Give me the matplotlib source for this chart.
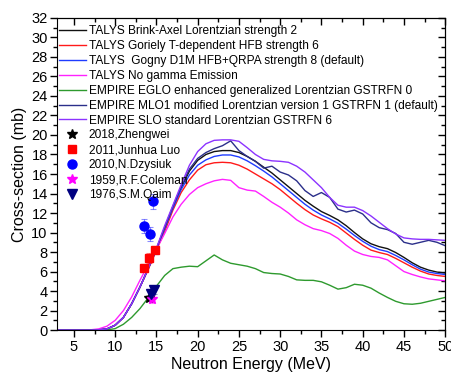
import matplotlib
matplotlib.use("Agg")
import matplotlib.pyplot as plt
from matplotlib.ticker import MultipleLocator

plt.rcParams['font.family'] = ['Liberation Sans', 'DejaVu Sans']

energy = list(range(3, 51))

talys_brink_axel = [0, 0, 0, 0, 0.0, 0.03, 0.12, 0.5, 1.3, 2.7, 4.4, 6.3, 8.3, 10.5, 12.6, 14.6,
                    16.3, 17.4, 18.0, 18.3, 18.4, 18.4, 18.2, 17.8, 17.3, 16.7, 16.1, 15.4, 14.7,
                    14.0, 13.3, 12.7, 12.15, 11.75, 11.3, 10.7, 10.0, 9.35, 8.85, 8.55, 8.35, 7.95,
                    7.45, 6.9, 6.45, 6.15, 5.95, 5.85]
talys_goriely = [0, 0, 0, 0, 0.0, 0.03, 0.12, 0.5, 1.3, 2.7, 4.4, 6.2, 8.2, 10.1, 12.3, 14.1,
                 15.4, 16.4, 16.95, 17.15, 17.2, 17.15, 16.9, 16.5, 16.0, 15.5, 15.0, 14.4, 13.7,
                 13.0, 12.35, 11.8, 11.4, 11.05, 10.6, 9.95, 9.3, 8.7, 8.2, 7.95, 7.75, 7.35,
                 6.9, 6.45, 6.05, 5.75, 5.6, 5.5]
talys_gogny = [0, 0, 0, 0, 0.0, 0.03, 0.12, 0.5, 1.3, 2.7, 4.4, 6.3, 8.3, 10.4, 12.5, 14.4,
               15.9, 16.9, 17.45, 17.8, 17.95, 17.95, 17.75, 17.35, 16.85, 16.3, 15.7, 15.0, 14.3,
               13.6, 12.9, 12.3, 11.8, 11.4, 10.95, 10.35, 9.7, 9.1, 8.6, 8.25, 8.05, 7.65,
               7.2, 6.7, 6.25, 5.95, 5.8, 5.7]
talys_no_gamma = [0, 0, 0, 0, 0.03, 0.12, 0.4, 1.0, 2.0, 3.4, 5.1, 6.7, 8.3, 9.9, 11.6, 12.9,
                  13.9, 14.6, 15.0, 15.3, 15.45, 15.35, 14.6, 14.35, 14.25, 13.7, 13.1, 12.6, 12.0,
                  11.3, 10.8, 10.4, 10.2, 9.9, 9.4, 8.7, 8.1, 7.75, 7.55, 7.45, 7.2, 6.6,
                  6.0, 5.7, 5.45, 5.25, 5.15, 5.05]
empire_eglo = [0, 0, 0, 0, 0, 0, 0.02, 0.15, 0.6, 1.3, 2.2, 3.3, 4.5, 5.6, 6.3, 6.45,
               6.55, 6.5, 7.1, 7.7, 7.2, 6.85, 6.7, 6.55, 6.3, 5.9, 5.8, 5.75, 5.5,
               5.15, 5.1, 5.1, 4.95, 4.6, 4.2, 4.35, 4.7, 4.6, 4.3, 3.8, 3.35, 2.95,
               2.7, 2.65, 2.75, 2.95, 3.15, 3.35]
empire_mlo1 = [0, 0, 0, 0, 0.0, 0.03, 0.12, 0.5, 1.3, 2.7, 4.4, 6.3, 8.3, 10.5, 12.7, 14.7,
               16.5, 17.6, 18.2, 18.6, 18.9, 19.4, 18.4, 17.8, 17.3, 16.6, 16.8, 16.2, 15.9,
               15.3, 14.3, 13.7, 14.1, 13.6, 12.4, 12.1, 12.3, 11.9, 11.0, 10.5, 10.3, 9.9,
               9.0, 8.8, 9.0, 9.2, 9.0, 8.65]
empire_slo = [0, 0, 0, 0, 0.0, 0.03, 0.12, 0.5, 1.3, 2.7, 4.4, 6.3, 8.4, 10.7, 12.8, 14.9,
              16.9, 18.3, 19.1, 19.45, 19.5, 19.5, 19.35, 18.7, 18.0, 17.5, 17.35, 17.3, 17.2,
              16.8, 16.2, 15.4, 14.6, 13.6, 12.8, 12.6, 12.6, 12.25, 11.7, 11.05, 10.4, 9.85,
              9.45, 9.35, 9.3, 9.3, 9.25, 9.2]

zhengwei_e = [14.1]
zhengwei_v = [3.3]
zhengwei_err = [0.3]
luo_e = [13.5, 14.1, 14.8]
luo_v = [6.4, 7.4, 8.2]
luo_err = [0.4, 0.5, 0.4]
dzysiuk_e = [13.5, 14.2, 14.6]
dzysiuk_v = [10.7, 9.85, 13.2]
dzysiuk_err = [0.7, 0.7, 0.8]
coleman_e = [14.5]
coleman_v = [3.2]
coleman_err = [0.4]
qaim_e = [14.4, 14.7]
qaim_v = [3.7, 4.1]
qaim_err = [0.3, 0.4]

fig = plt.figure(figsize=(4.52, 3.73), dpi=100)
ax = fig.add_axes([0.127, 0.115, 0.858, 0.837])

lines = [
    (talys_brink_axel, '#111111', 'TALYS Brink-Axel Lorentzian strength 2'),
    (talys_goriely, '#ff1a1a', 'TALYS Goriely T-dependent HFB strength 6'),
    (talys_gogny, '#1f3cff', 'TALYS  Gogny D1M HFB+QRPA strength 8 (default)'),
    (talys_no_gamma, '#ff22ff', 'TALYS No gamma Emission'),
    (empire_eglo, '#2e9a2e', 'EMPIRE EGLO enhanced generalized Lorentzian GSTRFN 0'),
    (empire_mlo1, '#2b2f8a', 'EMPIRE MLO1 modified Lorentzian version 1 GSTRFN 1 (default)'),
    (empire_slo, '#8c33ff', 'EMPIRE SLO standard Lorentzian GSTRFN 6'),
]
for vals, col, lab in lines:
    ax.plot(energy, vals, color=col, lw=1.0, label=lab)

exps = [
    (zhengwei_e, zhengwei_v, zhengwei_err, '*', '#000000', 7.5, '2018,Zhengwei'),
    (luo_e, luo_v, luo_err, 's', '#ff0000', 6, '2011,Junhua Luo'),
    (dzysiuk_e, dzysiuk_v, dzysiuk_err, 'o', '#0000ff', 6.5, '2010,N.Dzysiuk'),
    (coleman_e, coleman_v, coleman_err, '*', '#ff00ff', 7.5, '1959,R.F.Coleman'),
    (qaim_e, qaim_v, qaim_err, 'v', '#000080', 6.5, '1976,S.M.Qaim'),
]
for e, v, err, m, col, ms, lab in exps:
    ax.errorbar(e, v, yerr=err, fmt='none', ecolor=col, alpha=0.45, elinewidth=0.8,
                capsize=2.5, capthick=0.8)
    ax.plot(e, v, ls='none', marker=m, color=col, markersize=ms, label=lab)

ax.set_xlim(3, 50)
ax.set_ylim(0, 32)
ax.xaxis.set_major_locator(MultipleLocator(5))
ax.xaxis.set_minor_locator(MultipleLocator(2.5))
ax.yaxis.set_major_locator(MultipleLocator(2))
ax.yaxis.set_minor_locator(MultipleLocator(1))
ax.tick_params(which='major', direction='out', length=5, width=1, labelsize=10.5, pad=2)
ax.tick_params(which='minor', direction='out', length=3, width=1)

top = ax.secondary_xaxis('top')
top.xaxis.set_major_locator(MultipleLocator(5))
top.xaxis.set_minor_locator(MultipleLocator(2.5))
top.tick_params(which='major', direction='in', length=5, width=1, labeltop=False)
top.tick_params(which='minor', direction='in', length=3, width=1)
right = ax.secondary_yaxis('right')
right.yaxis.set_major_locator(MultipleLocator(2))
right.yaxis.set_minor_locator(MultipleLocator(1))
right.tick_params(which='major', direction='in', length=5, width=1, labelright=False)
right.tick_params(which='minor', direction='in', length=3, width=1)

ax.set_xlabel('Neutron Energy (MeV)', fontsize=11.5, labelpad=2)
ax.set_ylabel('Cross-section (mb)', fontsize=11.5, labelpad=3)

ax.legend(loc='upper left', bbox_to_anchor=(0.004, 0.976), frameon=False, fontsize=8.6,
          handlelength=2.25, handletextpad=0.25, labelspacing=0.24, borderpad=0, borderaxespad=0)

fig.savefig('out.png', dpi=100)
